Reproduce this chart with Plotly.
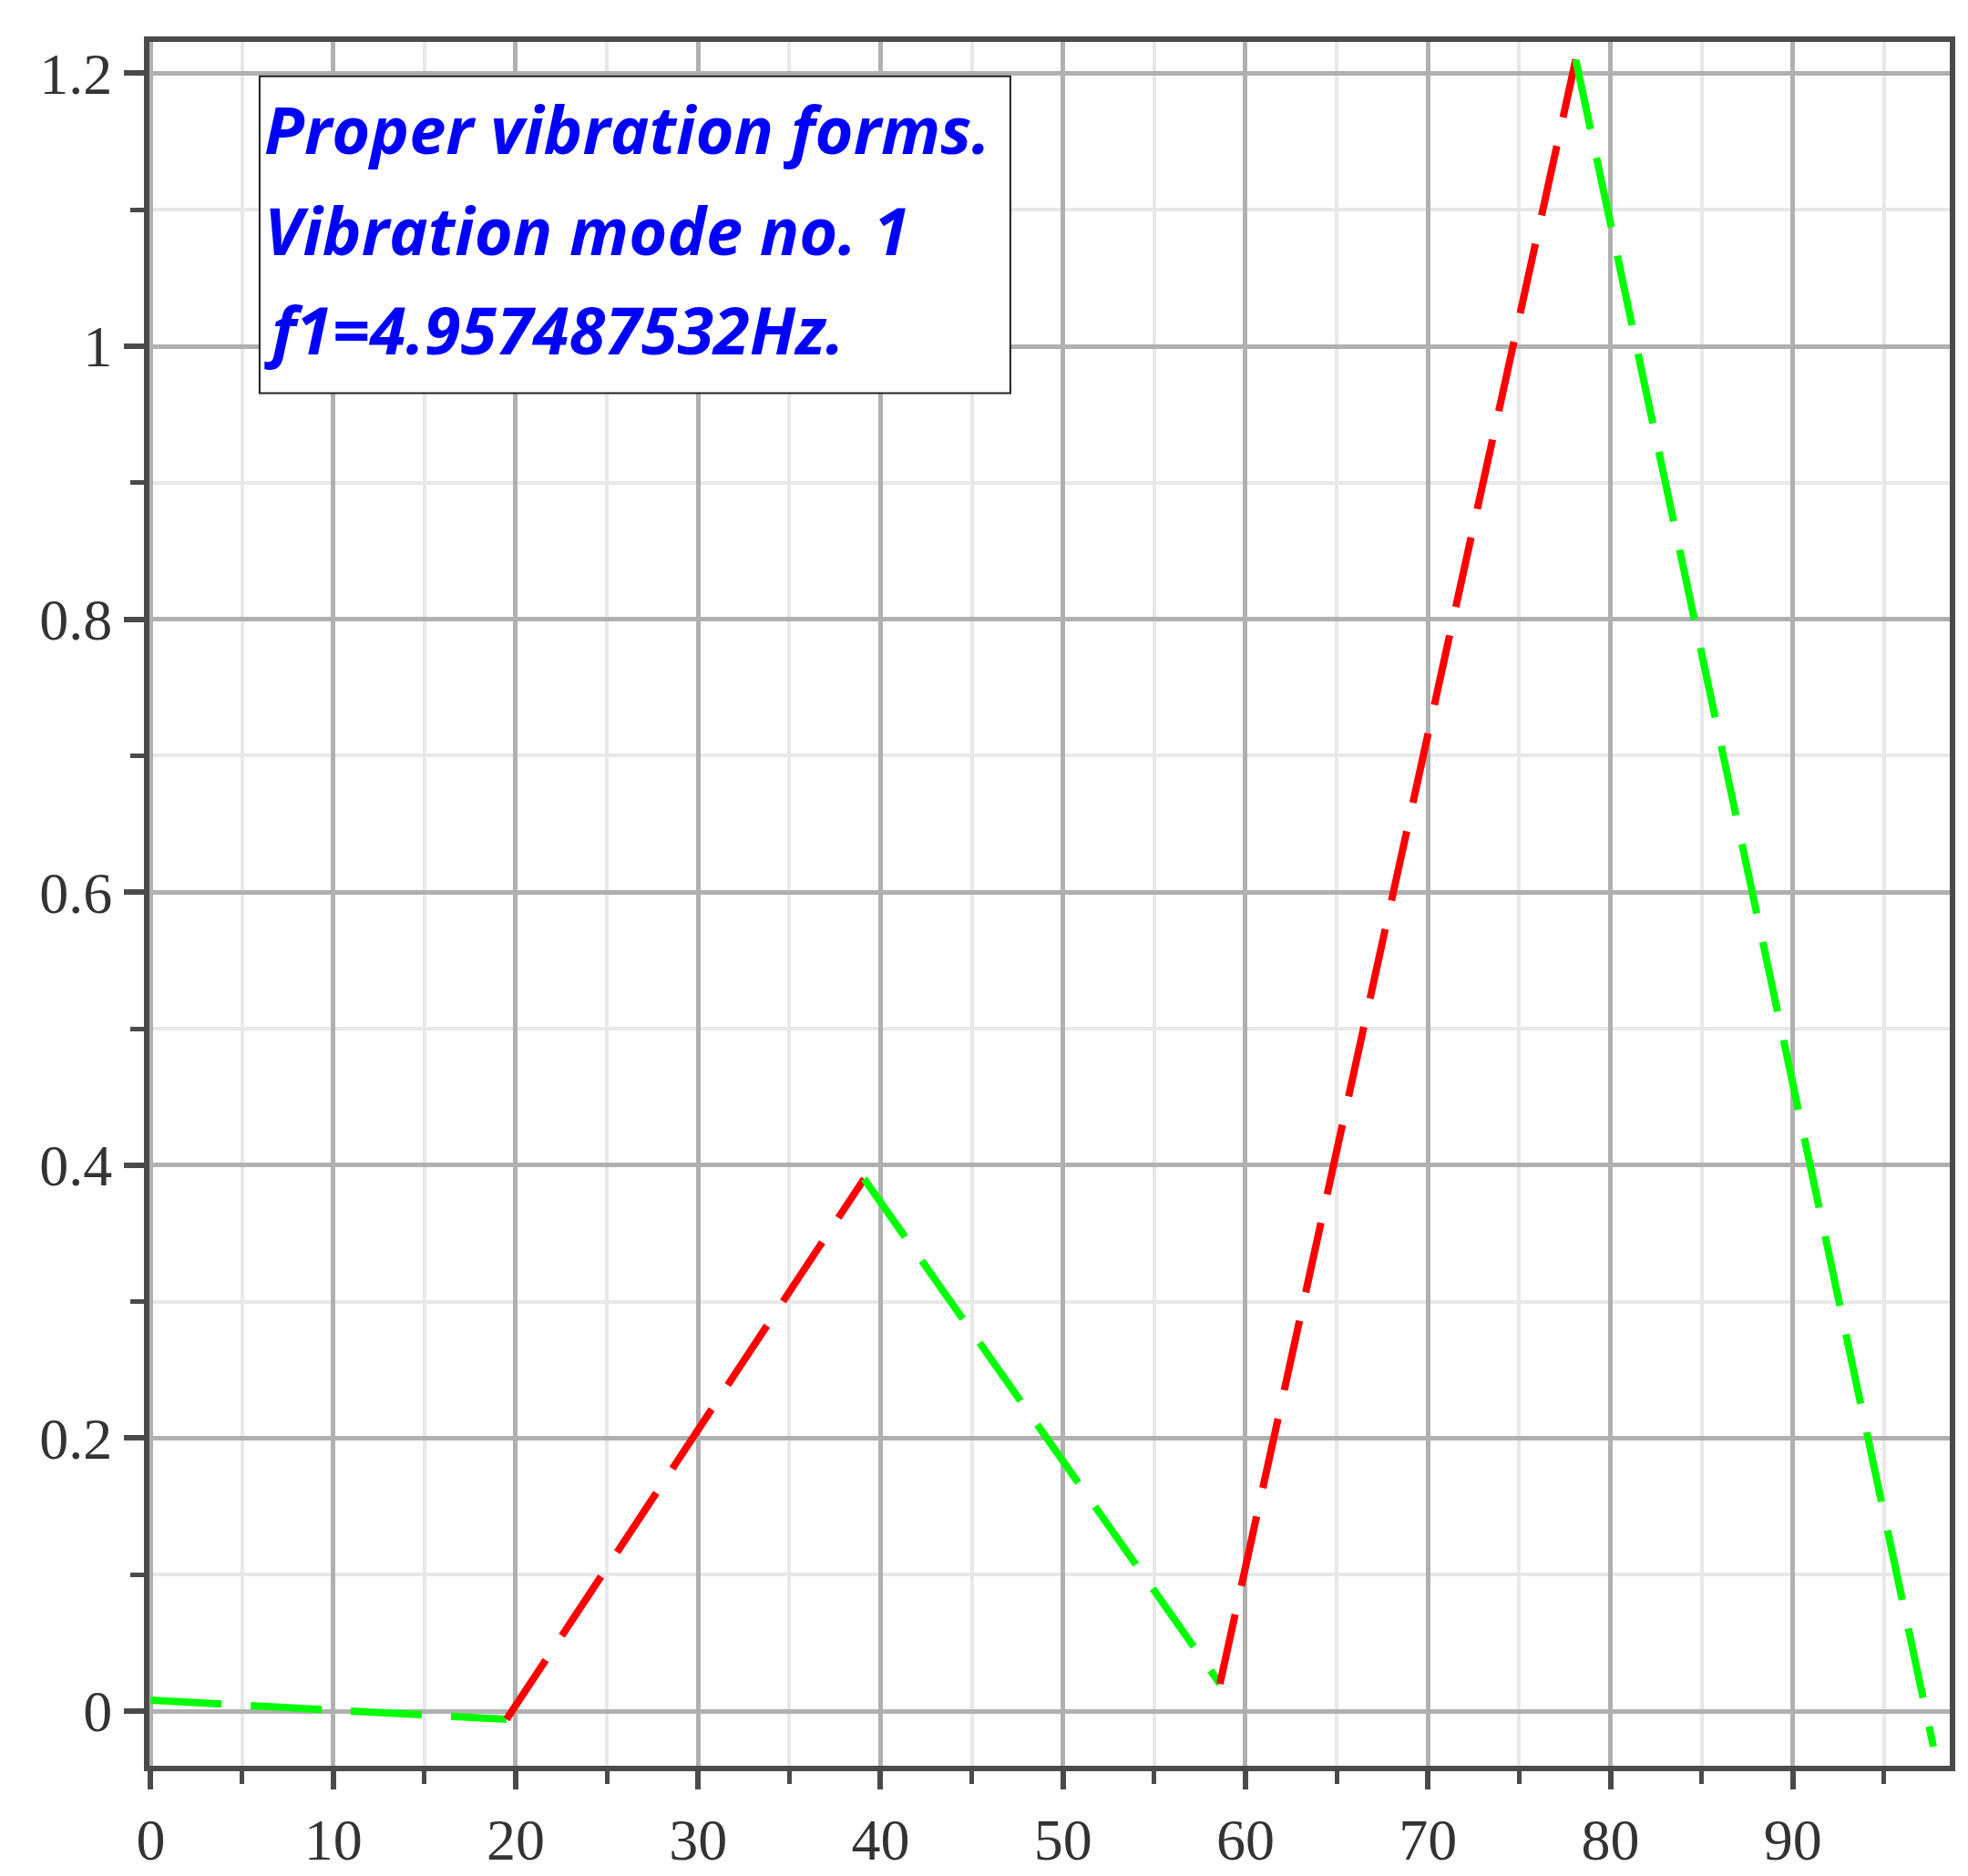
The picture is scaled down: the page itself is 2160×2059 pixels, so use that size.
import plotly.graph_objects as go

# nodos de la forma modal (eje x) y desplazamientos
x_nodos = [0, 19.5, 39.1, 58.6, 78.1, 97.7]
y_nodos = [0.008, -0.006, 0.39, 0.02, 1.21, -0.026]
# color de cada tramo entre nodos
colores_tramo = ["#00ff00", "#ff0000", "#00ff00", "#ff0000", "#00ff00"]

lineas_texto = ["Proper vibration forms.", "Vibration mode no. 1", "f1=4.957487532Hz."]

fig = go.Figure()

for i, color in enumerate(colores_tramo):
    fig.add_trace(go.Scatter(
        x=x_nodos[i:i + 2], y=y_nodos[i:i + 2], mode="lines",
        line=dict(color=color, width=8, dash="78px,32px"),
        showlegend=False))

fuente_ejes = dict(family="Liberation Serif", size=64, color="#333333")

fig.update_xaxes(
    range=[-0.07, 98.6], dtick=10, tick0=0,
    showgrid=True, gridcolor="#b0b0b0", gridwidth=5,
    showline=True, linecolor="#4a4a4a", linewidth=6, mirror=True,
    ticks="outside", ticklen=20, tickwidth=6, tickcolor="#4a4a4a",
    tickfont=fuente_ejes, zeroline=False,
    minor=dict(dtick=5, showgrid=True, gridcolor="#e8e8e8", gridwidth=4,
               ticks="outside", ticklen=14, tickwidth=5, tickcolor="#4a4a4a"))

fig.update_yaxes(
    range=[-0.04, 1.223], dtick=0.2, tick0=0,
    showgrid=True, gridcolor="#b0b0b0", gridwidth=5,
    showline=True, linecolor="#4a4a4a", linewidth=6, mirror=True,
    ticks="outside", ticklen=22, tickwidth=6, tickcolor="#4a4a4a",
    tickfont=fuente_ejes, zeroline=False,
    minor=dict(dtick=0.1, showgrid=True, gridcolor="#e8e8e8", gridwidth=4,
               ticks="outside", ticklen=15, tickwidth=5, tickcolor="#4a4a4a"))

# recuadro del texto
fig.add_shape(type="rect", xref="paper", yref="paper",
              x0=0.0612, x1=0.4782, y0=0.7962, y1=0.980,
              line=dict(color="#222222", width=2), fillcolor="white", layer="above")

y_texto = [0.950, 0.891, 0.8335]
for txt, yy in zip(lineas_texto, y_texto):
    fig.add_annotation(xref="paper", yref="paper", x=0.0625, y=yy,
                       xanchor="left", yanchor="middle", showarrow=False,
                       text=f"<b><i>{txt}</i></b>",
                       font=dict(family="Open Sans", size=72, color="#0000ff"))

fig.update_layout(
    width=2160, height=2059,
    margin=dict(l=156, r=28, t=38, b=117),
    plot_bgcolor="white", paper_bgcolor="white")

fig.write_html("out.html")
